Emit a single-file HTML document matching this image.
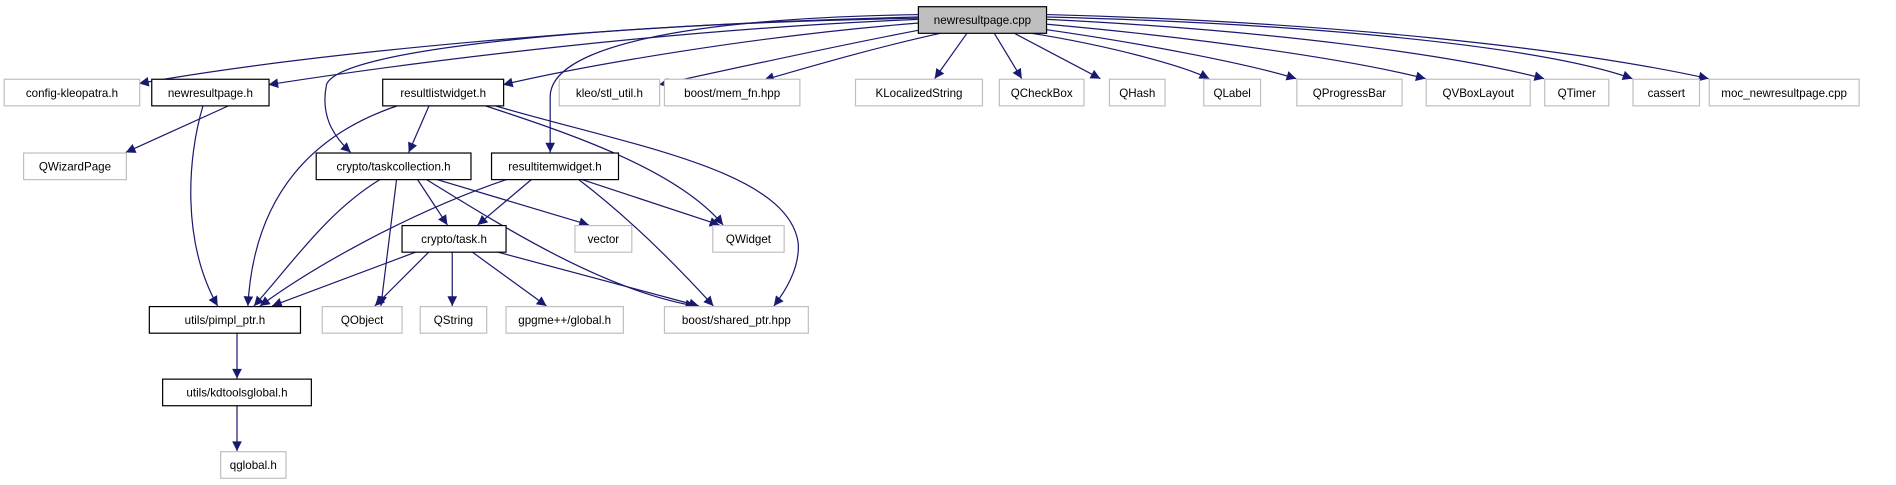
<!DOCTYPE html>
<html><head><meta charset="utf-8"><style>
html,body{margin:0;padding:0;background:#fff;}
svg{display:block;}
text{font-family:"Liberation Sans",sans-serif;font-size:9.6px;fill:#000;}
</style></head><body>
<svg width="1896" height="485" viewBox="0 0 1568 401" xmlns="http://www.w3.org/2000/svg">
<defs>
<marker id="a" viewBox="0 0 10 10" refX="10" refY="5" markerWidth="10" markerHeight="8" markerUnits="userSpaceOnUse" orient="auto">
<path d="M0,0 L10,5 L0,10 z" fill="#191970"/></marker>
</defs>
<g fill="none" stroke="#191970" stroke-width="1" marker-end="url(#a)">
<path d="M759,14 C500,20 250,45 115,69"/>
<path d="M759,16 C560,24 350,50 222,70"/>
<path d="M759,15 C500,20 280,40 270,70 C265,95 275,112 290,126"/>
<path d="M760,19 C620,30 480,55 416,70"/>
<path d="M762,12 C560,15 455,40 455,80 L455,126"/>
<path d="M765,24 C700,36 600,58 545,70"/>
<path d="M780,27 C720,40 660,58 632,66"/>
<path d="M800,27 L773,65"/>
<path d="M822,27 L845,65"/>
<path d="M838,27 L910,65"/>
<path d="M850,27 C920,38 980,55 1000,65"/>
<path d="M862,24 C960,38 1040,55 1072,65"/>
<path d="M866,20 C1000,32 1120,50 1179,65"/>
<path d="M866,16 C1050,25 1200,45 1277,65"/>
<path d="M866,14 C1100,20 1280,40 1350,65"/>
<path d="M866,12 C1100,18 1300,40 1413,65"/>
<path d="M190,87 L104,126"/>
<path d="M168,87 C155,130 150,200 180,253"/>
<path d="M355,87 L338,126"/>
<path d="M330,87 C260,110 210,160 205,253"/>
<path d="M400,87 C470,110 560,140 598,186"/>
<path d="M408,87 C520,120 650,140 660,200 C662,220 650,240 640,253"/>
<path d="M345,148 L370,186"/>
<path d="M315,148 C270,175 240,220 210,253"/>
<path d="M328,148 L315,253"/>
<path d="M360,148 L487,186"/>
<path d="M352,148 C420,190 500,240 575,253"/>
<path d="M440,148 L395,186"/>
<path d="M420,148 C340,175 260,220 215,253"/>
<path d="M480,148 L595,186"/>
<path d="M478,148 C520,180 560,220 590,253"/>
<path d="M345,208 L225,253"/>
<path d="M355,208 L310,253"/>
<path d="M374,208 L374,253"/>
<path d="M390,208 L452,253"/>
<path d="M410,208 L578,253"/>
<path d="M196,275 L196,313"/>
<path d="M196,335 L196,373"/>
</g>
<g stroke-width="1">
<rect x="759.5" y="5.5" width="106" height="22" fill="#bfbfbf" stroke="#000"/>
<g fill="#fff" stroke="#bfbfbf">
<rect x="3.5" y="65.5" width="112" height="22"/>
<rect x="462.5" y="65.5" width="83" height="22"/>
<rect x="549.5" y="65.5" width="112" height="22"/>
<rect x="707.5" y="65.5" width="105" height="22"/>
<rect x="826.5" y="65.5" width="70" height="22"/>
<rect x="917.5" y="65.5" width="46" height="22"/>
<rect x="995.5" y="65.5" width="47" height="22"/>
<rect x="1072.5" y="65.5" width="87" height="22"/>
<rect x="1179.5" y="65.5" width="86" height="22"/>
<rect x="1277.5" y="65.5" width="53" height="22"/>
<rect x="1350.5" y="65.5" width="55" height="22"/>
<rect x="1413.5" y="65.5" width="124" height="22"/>
<rect x="19.5" y="126.5" width="85" height="22"/>
<rect x="475.5" y="186.5" width="47" height="22"/>
<rect x="589.5" y="186.5" width="59" height="22"/>
<rect x="266.5" y="253.5" width="66" height="22"/>
<rect x="347.5" y="253.5" width="55" height="22"/>
<rect x="418.5" y="253.5" width="97" height="22"/>
<rect x="549.5" y="253.5" width="119" height="22"/>
<rect x="182.5" y="373.5" width="54" height="22"/>
</g>
<g fill="#fff" stroke="#000">
<rect x="125.5" y="65.5" width="97" height="22"/>
<rect x="316.5" y="65.5" width="100" height="22"/>
<rect x="261.5" y="126.5" width="128" height="22"/>
<rect x="406.5" y="126.5" width="105" height="22"/>
<rect x="332.5" y="186.5" width="86" height="22"/>
<rect x="123.5" y="253.5" width="125" height="22"/>
<rect x="134.5" y="313.5" width="123" height="22"/>
</g>
</g>
<g text-anchor="middle">
<text x="812.5" y="20">newresultpage.cpp</text>
<text x="59.5" y="80">config-kleopatra.h</text>
<text x="174" y="80">newresultpage.h</text>
<text x="366.5" y="80">resultlistwidget.h</text>
<text x="504" y="80">kleo/stl_util.h</text>
<text x="605.5" y="80">boost/mem_fn.hpp</text>
<text x="760" y="80">KLocalizedString</text>
<text x="861.5" y="80">QCheckBox</text>
<text x="940.5" y="80">QHash</text>
<text x="1019" y="80">QLabel</text>
<text x="1116" y="80">QProgressBar</text>
<text x="1222.5" y="80">QVBoxLayout</text>
<text x="1304" y="80">QTimer</text>
<text x="1378" y="80">cassert</text>
<text x="1475.5" y="80">moc_newresultpage.cpp</text>
<text x="62" y="141">QWizardPage</text>
<text x="325.5" y="141">crypto/taskcollection.h</text>
<text x="459" y="141">resultitemwidget.h</text>
<text x="375.5" y="201">crypto/task.h</text>
<text x="499" y="201">vector</text>
<text x="619" y="201">QWidget</text>
<text x="186" y="268">utils/pimpl_ptr.h</text>
<text x="299.5" y="268">QObject</text>
<text x="375" y="268">QString</text>
<text x="467" y="268">gpgme++/global.h</text>
<text x="609" y="268">boost/shared_ptr.hpp</text>
<text x="196" y="328">utils/kdtoolsglobal.h</text>
<text x="209.5" y="388">qglobal.h</text>
</g>
</svg>
</body></html>
